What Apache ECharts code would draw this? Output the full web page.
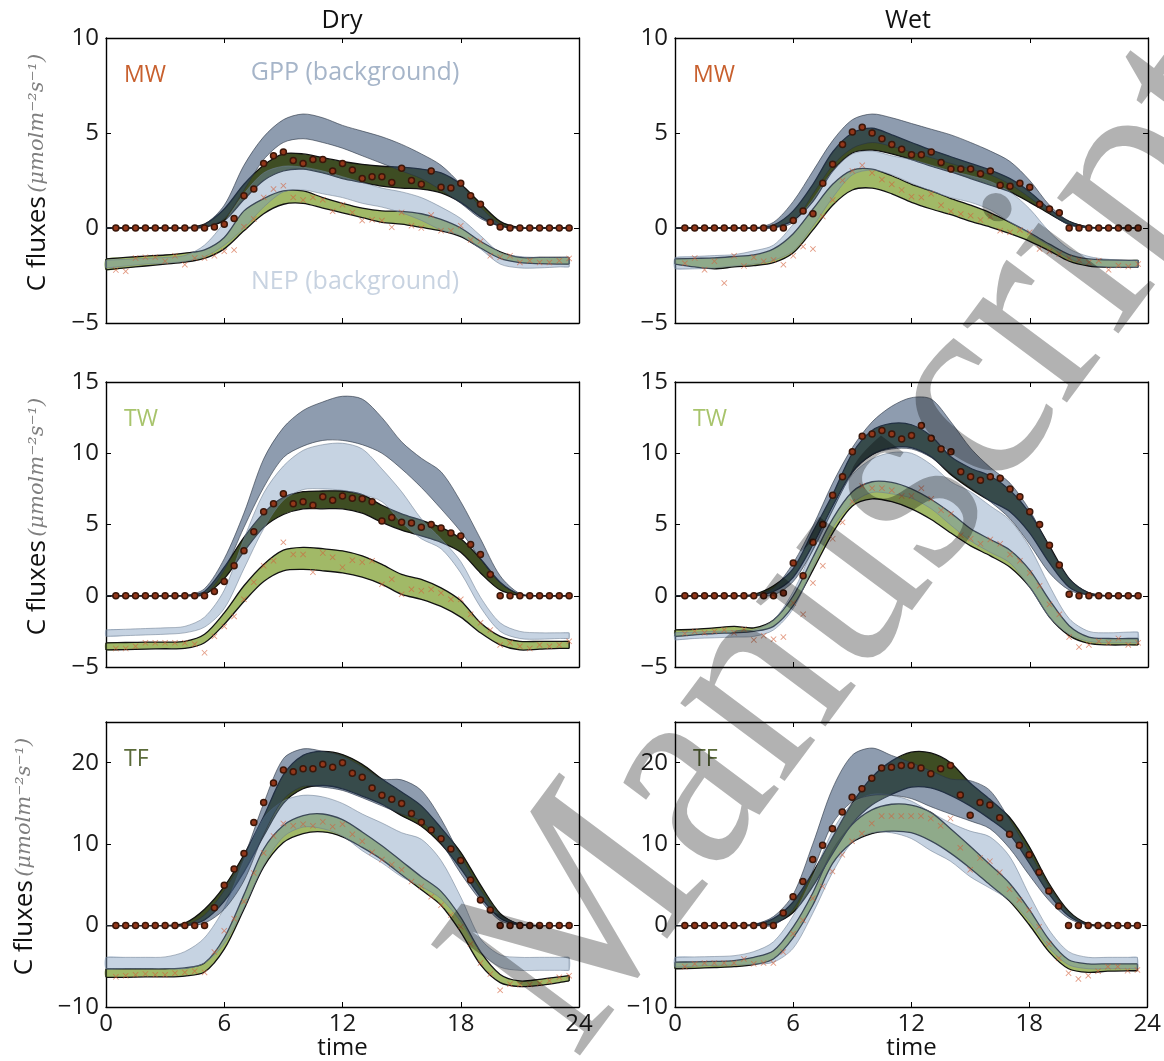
<!DOCTYPE html>
<html>
<head>
<meta charset="utf-8">
<script src="https://cdn.jsdelivr.net/npm/echarts@6/dist/echarts.min.js"></script>
<style>
  html, body { margin: 0; padding: 0; background: #fff; }
  #chart { width: 1164px; height: 1061px; }
</style>
</head>
<body>
<div id="chart"></div>
<script>
// model / background bands are hourly, the last point is 23.5 h
var BAND_T = [0,1,2,3,4,5,6,7,8,9,10,11,12,13,14,15,16,17,18,19,20,21,22,23,23.5]
// observations every half hour
var OBS_T = [0.5,1,1.5,2,2.5,3,3.5,4,4.5,5,5.5,6,6.5,7,7.5,8,8.5,9,9.5,10,10.5,11,11.5,12,12.5,13,13.5,14,14.5,15,15.5,16,16.5,17,17.5,18,18.5,19,19.5,20,20.5,21,21.5,22,22.5,23,23.5]

// ---- Dry, MW
var dryMW_gppBgHi = [0,0,0,0,0,0.2,1.2,3.3,4.8,5.7,6.0,5.8,5.4,5.1,4.8,4.4,3.9,3.3,2.3,1.1,0.2,0,0,0,0]
var dryMW_gppBgLo = [0,0,0,0,0,0.05,0.5,2.0,3.6,4.5,4.7,4.5,4.2,3.8,3.4,3.0,2.6,2.0,1.3,0.5,0.1,0,0,0,0]
var dryMW_gppHi = [0,0,0,0,0,0.2,1.0,2.3,3.3,3.9,3.9,3.7,3.5,3.35,3.25,3.2,3.1,2.9,2.3,1.3,0.35,0.02,0,0,0]
var dryMW_gppLo = [0,0,0,0,0,0.05,0.4,1.5,2.5,3.0,3.1,2.9,2.6,2.4,2.2,2.1,2.05,1.85,1.35,0.6,0.1,0,0,0,0]
var dryMW_nepBgHi = [-1.7,-1.65,-1.6,-1.55,-1.45,-0.9,0.3,1.8,2.9,3.25,3.2,3.0,2.7,2.4,2.1,1.9,1.6,1.1,0.5,-0.4,-1.3,-1.5,-1.55,-1.55,-1.55]
var dryMW_nepBgLo = [-2.1,-2.0,-1.9,-1.85,-1.75,-1.5,-0.9,0.0,1.1,1.9,2.0,1.8,1.6,1.3,1.1,0.8,0.4,-0.1,-0.4,-1.1,-1.9,-2.1,-2.1,-2.05,-2.05]
var dryMW_nepHi = [-1.63,-1.55,-1.48,-1.42,-1.32,-1.15,-0.5,0.9,1.55,1.95,1.95,1.6,1.3,1.05,0.9,0.88,0.75,0.45,0.0,-0.7,-1.25,-1.55,-1.55,-1.55,-1.55]
var dryMW_nepLo = [-2.2,-2.1,-2.0,-1.9,-1.8,-1.6,-1.1,-0.15,0.75,1.25,1.3,1.05,0.8,0.55,0.3,0.2,0.03,-0.15,-0.45,-1.05,-1.6,-1.82,-1.88,-1.9,-1.9]
var dryMW_gppObs = [0,0,0,0,0,0,0,0,0,0,0.05,0.2,0.5,1.7,2.05,3.4,3.8,4.0,3.55,3.4,3.6,3.6,3.0,3.4,3.05,2.6,2.7,2.7,2.4,3.15,2.5,2.3,3.0,2.15,2.1,2.35,1.7,1.25,0.3,0.05,0,0,0,0,0,0,0]
var dryMW_nepObs = [-2.21,-2.28,-1.58,-1.54,-1.54,-1.75,-1.46,-1.93,-1.58,-1.58,-1.46,-1.23,-1.16,0.07,0.47,1.61,2.05,2.23,1.61,1.47,1.61,1.49,0.88,1.23,0.82,0.39,0.44,0.39,0.04,0.82,0.12,0,0.68,-0.14,-0.14,0.12,-0.63,-0.7,-1.46,-1.54,-1.46,-1.81,-1.72,-1.81,-1.81,-1.72,-1.6]

// ---- Wet, MW
var wetMW_gppBgHi = [0,0,0,0,0,0.3,1.4,3.0,4.6,5.7,6.0,5.8,5.5,5.2,4.9,4.5,4.05,3.5,2.5,1.2,0.35,0.05,0,0,0]
var wetMW_gppBgLo = [0,0,0,0,0,0,0.3,1.8,3.3,4.2,4.5,4.3,4.0,3.7,3.4,3.1,2.8,2.3,1.6,0.8,0.15,0,0,0,0]
var wetMW_gppHi = [0,0,0,0,0,0.15,0.9,2.3,4.0,5.0,5.25,4.9,4.5,4.1,3.75,3.4,3.05,2.6,1.9,1.0,0.35,0.05,0,0,0]
var wetMW_gppLo = [0,0,0,0,0,0.03,0.4,1.4,3.0,3.95,4.1,3.9,3.6,3.25,2.95,2.6,2.25,1.9,1.35,0.75,0.2,0.02,0,0,0]
var wetMW_nepBgHi = [-1.55,-1.5,-1.45,-1.4,-1.2,-0.9,0.2,1.5,3.0,3.9,4.05,3.8,3.6,3.3,3.0,2.75,2.45,1.9,1.0,-0.2,-1.1,-1.5,-1.65,-1.7,-1.7]
var wetMW_nepBgLo = [-2.15,-2.15,-2.1,-2.0,-1.9,-1.7,-1.2,0.1,1.6,2.8,3.05,2.8,2.35,1.95,1.6,1.35,0.95,0.3,-0.3,-0.95,-1.6,-1.95,-2.07,-2.07,-2.07]
var wetMW_nepHi = [-1.63,-1.6,-1.57,-1.5,-1.42,-1.1,-0.3,1.0,2.3,3.05,3.1,2.75,2.3,1.95,1.55,1.2,0.8,0.3,-0.25,-0.85,-1.4,-1.63,-1.68,-1.7,-1.7]
var wetMW_nepLo = [-1.9,-2.05,-2.15,-2.05,-1.98,-1.82,-1.3,-0.1,1.2,2.0,2.1,1.8,1.35,1.0,0.7,0.35,0.05,-0.3,-0.7,-1.2,-1.75,-2.0,-2.07,-2.07,-2.07]
var wetMW_gppObs = [0,0,0,0,0,0,0,0,0,0,0,0.4,0.9,0.75,2.35,3.35,4.4,5.05,5.3,5.0,4.7,4.4,4.15,3.85,3.85,4.0,3.45,3.1,3.1,3.1,2.85,3.0,2.25,2.2,2.35,2.15,1.25,1.0,0.8,0,0,0,0,0,0,0,0]
var wetMW_nepObs = [-1.86,-1.58,-2.2,-1.75,-2.9,-1.46,-2.0,-1.55,-1.75,-1.68,-1.93,-1.46,-0.98,-1.1,0.6,1.47,2.5,3.0,3.3,2.9,2.55,2.3,2.0,1.65,1.6,1.8,1.2,0.88,0.74,0.65,0.42,0.6,-0.14,-0.23,-0.1,-0.23,-1.1,-1.23,-1.37,-1.58,-1.68,-1.81,-1.72,-2.2,-1.98,-2.03,-1.9]

// ---- Dry, TW
var dryTW_gppBgHi = [0,0,0,0,0,0.5,2.6,5.8,9.6,11.8,13.0,13.6,14.0,13.8,12.5,10.8,9.65,8.7,6.6,4.0,1.4,0.15,0,0,0]
var dryTW_gppBgLo = [0,0,0,0,0,0.1,1.8,4.8,7.6,9.7,10.5,10.9,10.9,10.6,10.0,8.9,7.6,6.1,4.5,2.6,0.9,0.1,0,0,0]
var dryTW_gppHi = [0,0,0,0,0.02,0.3,2.0,4.1,5.8,6.9,7.3,7.35,7.35,7.1,6.35,5.75,5.3,4.8,4.0,2.6,0.95,0.1,0,0,0]
var dryTW_gppLo = [0,0,0,0,0,0.1,1.2,3.1,4.8,5.7,6.1,6.1,6.1,5.8,5.15,4.6,4.2,3.75,3.05,1.6,0.4,0.02,0,0,0]
var dryTW_nepBgHi = [-2.4,-2.35,-2.3,-2.25,-2.15,-1.5,0.4,4.0,7.2,9.1,10.2,10.6,10.7,10.3,8.9,7.3,5.4,4.0,2.4,-0.1,-1.9,-2.5,-2.6,-2.6,-2.6]
var dryTW_nepBgLo = [-2.85,-2.8,-2.75,-2.7,-2.6,-2.2,-0.9,1.9,4.7,6.7,7.45,7.5,7.4,7.1,6.6,5.15,4.0,3.3,1.6,-0.8,-2.5,-3.0,-3.05,-3.0,-3.0]
var dryTW_nepHi = [-3.3,-3.28,-3.25,-3.25,-3.2,-2.7,-1.2,0.7,2.2,3.2,3.4,3.3,3.15,2.8,2.2,1.5,1.15,0.55,-0.35,-1.9,-2.85,-3.2,-3.2,-3.2,-3.2]
var dryTW_nepLo = [-3.8,-3.78,-3.75,-3.72,-3.7,-3.3,-2.0,-0.4,1.0,1.75,1.85,1.75,1.6,1.3,0.8,0.1,-0.25,-0.75,-1.5,-2.6,-3.45,-3.8,-3.75,-3.7,-3.7]
var dryTW_gppObs = [0,0,0,0,0,0,0,0,0,0,0.3,1.0,2.1,3.15,4.5,5.9,6.45,7.15,6.45,6.6,6.35,6.95,6.7,7.0,6.85,6.8,6.6,5.25,5.5,5.15,5.1,4.8,5.0,4.75,4.4,4.2,3.6,2.9,1.5,0,0,0,0,0,0,0,0]
var dryTW_nepObs = [-3.7,-3.7,-3.55,-3.3,-3.3,-3.3,-3.3,-3.3,-3.4,-4.0,-2.85,-2.15,-1.45,-0.25,0.95,2.1,2.45,3.75,2.9,2.9,1.65,3.0,2.7,2.0,2.5,2.35,2.45,0.8,1.15,0.1,0.45,0.35,0.45,0.2,-0.25,-0.25,-1.3,-1.9,-2.4,-3.45,-3.3,-3.55,-3.7,-3.45,-3.55,-3.45,-3.2]

// ---- Wet, TW
var wetTW_gppBgHi = [0,0,0,0,0.05,0.55,2.3,4.9,7.9,10.4,12.2,13.3,13.9,13.8,12.2,10.35,9.0,7.9,6.0,3.4,1.2,0.2,0,0,0]
var wetTW_gppBgLo = [0,0,0,0,0,0.05,1.0,3.2,6.0,8.6,9.9,10.3,10.3,9.7,8.6,7.6,6.6,5.4,3.6,1.6,0.4,0.05,0,0,0]
var wetTW_gppHi = [0,0,0,0,0.1,0.7,1.9,4.5,7.1,10.0,11.6,12.1,12.0,11.2,9.75,8.95,8.4,7.4,5.8,3.5,1.2,0.2,0,0,0]
var wetTW_gppLo = [0,0,0,0,0,0.3,1.3,3.6,6.3,8.7,9.9,10.4,10.4,9.75,8.5,7.5,6.65,5.9,4.4,2.3,0.6,0.05,0,0,0]
var wetTW_nepBgHi = [-2.6,-2.55,-2.5,-2.45,-2.4,-1.7,0.3,3.3,6.1,8.5,9.6,10.05,10.0,9.2,8.0,7.3,6.3,5.3,3.4,0.7,-1.6,-2.5,-2.6,-2.55,-2.55]
var wetTW_nepBgLo = [-3.1,-3.0,-2.95,-2.9,-2.85,-2.4,-0.9,2.0,4.8,6.5,7.25,7.15,6.85,6.1,4.95,3.85,3.05,2.3,0.6,-1.5,-2.7,-3.2,-3.3,-3.3,-3.3]
var wetTW_nepHi = [-2.4,-2.35,-2.25,-2.15,-2.25,-1.7,0.0,2.7,5.4,7.3,8.0,7.95,7.5,6.75,5.8,4.7,3.95,3.2,1.8,-0.3,-2.1,-2.9,-3.0,-3.0,-3.0]
var wetTW_nepLo = [-2.85,-2.75,-2.65,-2.6,-2.5,-2.15,-0.7,1.8,4.4,6.3,6.8,6.6,6.1,5.35,4.4,3.5,2.8,2.0,0.6,-1.5,-2.8,-3.35,-3.45,-3.45,-3.45]
var wetTW_gppObs = [0,0,0,0,0,0,0,0,0,0,0.2,2.3,1.4,3.75,5.0,7.05,8.35,10.1,11.2,11.35,11.6,11.35,11.0,11.25,11.95,11.05,10.3,10.1,8.7,8.35,8.1,8.35,8.25,7.5,6.95,5.9,5.0,3.55,2.15,0.1,0,0,0,0,0,0,0]
var wetTW_nepObs = [-2.65,-2.5,-2.6,-2.5,-2.4,-2.6,-2.35,-3.1,-2.8,-3.05,-2.9,-0.5,-1.3,0.9,2.1,4.0,5.15,6.6,7.7,7.55,7.55,7.4,7.0,7.0,7.55,6.8,6.0,5.75,4.25,4.0,3.65,3.95,3.65,2.9,2.45,1.6,0.7,-0.6,-1.3,-2.9,-3.6,-3.45,-3.2,-3.3,-3.0,-3.45,-3.3]

// ---- Dry, TF
var dryTF_gppBgHi = [0,0,0,0,0.05,1.3,4.3,8.5,15.0,20.5,21.7,21.4,20.8,19.5,18.0,17.9,16.6,13.1,8.5,4.4,1.3,0.2,0,0,0]
var dryTF_gppBgLo = [0,0,0,0,0,0.3,2.0,5.5,11.2,15.5,17.1,17.0,16.6,15.7,14.7,13.7,12.85,10.2,6.4,3.1,0.6,0.05,0,0,0]
var dryTF_gppHi = [0,0,0,0,0.3,2.0,4.8,8.7,13.4,18.5,20.9,21.4,21.0,19.8,18.0,16.4,14.7,12.0,9.0,5.0,1.5,0.15,0,0,0]
var dryTF_gppLo = [0,0,0,0,0,0.7,3.0,6.6,11.0,15.0,16.8,17.2,16.8,15.9,14.9,13.5,12.2,10.0,7.0,3.5,0.9,0.1,0,0,0]
var dryTF_nepBgHi = [-3.9,-3.9,-3.9,-3.85,-3.2,-1.5,2.2,8.0,13.2,15.3,16.0,15.8,15.0,13.7,12.6,11.4,10.6,8.0,3.5,-1.6,-3.6,-3.9,-3.9,-3.9,-3.9]
var dryTF_nepBgLo = [-5.3,-5.3,-5.3,-5.3,-5.3,-4.6,-2.2,2.2,7.4,10.9,12.1,11.9,11.0,9.2,7.7,6.0,4.8,3.3,0.5,-3.2,-5.1,-5.5,-5.5,-5.5,-5.5]
var dryTF_nepHi = [-5.3,-5.3,-5.3,-5.3,-5.2,-4.6,-1.5,3.8,9.4,12.3,13.5,13.7,13.0,11.5,9.8,7.9,6.0,4.2,1.0,-3.2,-6.0,-6.8,-6.6,-6.3,-6.15]
var dryTF_nepLo = [-6.35,-6.35,-6.3,-6.3,-6.2,-5.7,-2.9,2.0,7.2,10.2,11.3,11.5,10.9,9.6,8.1,6.25,4.4,2.5,-0.8,-4.8,-7.0,-7.5,-7.35,-7.0,-6.8]
var dryTF_gppObs = [0,0,0,0,0,0,0,0,0,0,2.2,4.95,6.95,8.85,12.65,15.1,17.5,19.1,18.9,19.25,19.25,19.8,19.45,20.0,18.7,18.2,16.9,16.0,15.5,15.0,13.75,12.7,11.75,10.65,9.4,8.0,5.6,3.15,1.9,0,0,0,0,0,0,0,0]
var dryTF_nepObs = [-6.3,-6.15,-6.05,-5.95,-6.05,-6.05,-5.85,-5.75,-5.6,-5.75,-3.25,-0.65,0.85,2.95,6.45,8.9,11.0,12.55,12.25,12.45,12.25,12.75,12.15,12.45,11.2,10.35,9.0,8.1,7.5,6.85,5.4,4.8,3.55,2.5,1.3,-0.15,-2.25,-4.6,-5.95,-7.95,-7.2,-7.25,-7.25,-7.1,-6.8,-6.35,-6.15]

// ---- Wet, TF
var wetTF_gppBgHi = [0,0,0,0,0.15,1.1,3.8,10.0,16.8,20.9,21.8,20.9,20.0,19.0,18.0,17.8,16.6,13.0,9.0,4.8,1.6,0.1,0,0,0]
var wetTF_gppBgLo = [0,0,0,0,0,0.05,2.0,6.7,12.5,15.2,16.0,16.0,15.6,14.6,13.7,12.85,11.9,9.5,6.2,3.1,0.9,0.05,0,0,0]
var wetTF_gppHi = [0,0,0,0,0.1,0.85,2.9,6.5,10.8,15.0,18.2,20.2,21.3,21.2,20.0,17.5,15.5,13.3,9.7,5.2,1.8,0.2,0,0,0]
var wetTF_gppLo = [0,0,0,0,0,0.25,1.6,4.8,8.8,12.5,14.8,16.1,17.0,16.9,16.0,14.7,13.1,11.2,7.7,3.9,1.2,0.1,0,0,0]
var wetTF_nepBgHi = [-3.9,-3.85,-3.8,-3.7,-3.2,-2.0,1.2,6.0,11.6,15.0,16.1,16.0,15.3,13.9,12.6,11.6,10.9,8.5,3.8,-0.5,-3.2,-3.9,-3.9,-3.9,-3.9]
var wetTF_nepBgLo = [-5.1,-5.0,-4.9,-4.85,-4.75,-4.5,-2.8,1.5,6.5,10.2,11.4,11.4,10.7,9.2,7.9,6.0,4.6,3.1,0.6,-2.7,-4.8,-5.3,-5.3,-5.3,-5.3]
var wetTF_nepHi = [-4.5,-4.45,-4.4,-4.3,-3.9,-3.1,-0.2,4.0,9.2,12.4,14.2,14.9,14.8,13.9,11.9,9.75,7.5,5.2,2.0,-1.7,-4.2,-4.7,-4.7,-4.7,-4.7]
var wetTF_nepLo = [-5.3,-5.25,-5.15,-5.05,-4.8,-4.1,-1.5,2.5,7.6,10.2,11.3,11.6,11.4,10.4,8.9,7.05,5.0,3.0,0.1,-3.2,-5.3,-5.75,-5.6,-5.55,-5.55]
var wetTF_gppObs = [0,0,0,0,0,0,0,0,0,0,1.55,3.55,5.4,8.1,9.85,11.9,13.95,15.75,16.8,18.1,19.35,19.45,19.65,19.65,19.35,18.65,19.25,19.65,16.05,13.55,15.1,14.8,13.25,11.2,9.85,8.7,6.55,4.25,2.4,0,0,0,0,0,0,0,0]
var wetTF_nepObs = [-5.05,-4.7,-4.6,-4.6,-4.6,-4.6,-4.1,-4.7,-4.6,-4.6,-3.25,-1.0,0.65,3.35,4.8,6.65,8.7,10.35,11.3,12.55,13.45,13.45,13.45,13.45,13.45,13.15,12.25,13.15,9.55,6.85,8.3,7.9,6.55,4.45,3.15,1.9,-0.15,-2.25,-4.0,-5.85,-6.55,-6.15,-5.6,-5.05,-5.05,-5.55,-5.45]

var SITES = ['MW', 'TW', 'TF']
var SITE_COLORS = ['#c8602e', '#a8c46c', '#5b6b3a']
var Y_RANGES = [[-5, 10, 5], [-5, 15, 5], [-10, 25, 10]]

var panels = [
  [dryMW_gppBgHi, dryMW_gppBgLo, dryMW_gppHi, dryMW_gppLo, dryMW_nepBgHi, dryMW_nepBgLo, dryMW_nepHi, dryMW_nepLo, dryMW_gppObs, dryMW_nepObs],
  [wetMW_gppBgHi, wetMW_gppBgLo, wetMW_gppHi, wetMW_gppLo, wetMW_nepBgHi, wetMW_nepBgLo, wetMW_nepHi, wetMW_nepLo, wetMW_gppObs, wetMW_nepObs],
  [dryTW_gppBgHi, dryTW_gppBgLo, dryTW_gppHi, dryTW_gppLo, dryTW_nepBgHi, dryTW_nepBgLo, dryTW_nepHi, dryTW_nepLo, dryTW_gppObs, dryTW_nepObs],
  [wetTW_gppBgHi, wetTW_gppBgLo, wetTW_gppHi, wetTW_gppLo, wetTW_nepBgHi, wetTW_nepBgLo, wetTW_nepHi, wetTW_nepLo, wetTW_gppObs, wetTW_nepObs],
  [dryTF_gppBgHi, dryTF_gppBgLo, dryTF_gppHi, dryTF_gppLo, dryTF_nepBgHi, dryTF_nepBgLo, dryTF_nepHi, dryTF_nepLo, dryTF_gppObs, dryTF_nepObs],
  [wetTF_gppBgHi, wetTF_gppBgLo, wetTF_gppHi, wetTF_gppLo, wetTF_nepBgHi, wetTF_nepBgLo, wetTF_nepHi, wetTF_nepLo, wetTF_gppObs, wetTF_nepObs]
]

var FONT = '"Open Sans", "DejaVu Sans", sans-serif'
var COL_LEFT = [106, 675]
var ROW_TOP = [38, 382, 722]
var PLOT_W = 473
var PLOT_H = 285

var chart = echarts.init(document.getElementById('chart'))

function tickFmt(v) {
  return v < 0 ? '\u2212' + Math.abs(v) : String(v)
}

// filled band between lo and hi, with edge lines like fill_between
function band(gi, lo, hi, fill, edge, lw, z) {
  return {
    type: 'custom',
    coordinateSystem: 'cartesian2d',
    xAxisIndex: gi * 2,
    yAxisIndex: gi * 2,
    z: z,
    silent: true,
    animation: false,
    data: [[0, 0]],
    renderItem: function (params, api) {
      var top = [], bot = []
      for (var i = 0; i < BAND_T.length; i++) {
        top.push(api.coord([BAND_T[i], hi[i]]))
        bot.push(api.coord([BAND_T[i], lo[i]]))
      }
      var ring = top.concat(bot.slice().reverse())
      var n = top.length - 1
      return {
        type: 'group',
        children: [
          { type: 'polygon', shape: { points: ring, smooth: 0.3 }, style: { fill: fill, stroke: null } },
          { type: 'polyline', shape: { points: top, smooth: 0.3 }, style: { fill: null, stroke: edge, lineWidth: lw } },
          { type: 'polyline', shape: { points: bot, smooth: 0.3 }, style: { fill: null, stroke: edge, lineWidth: lw } },
          { type: 'line', shape: { x1: top[0][0], y1: top[0][1], x2: bot[0][0], y2: bot[0][1] }, style: { stroke: edge, lineWidth: lw } },
          { type: 'line', shape: { x1: top[n][0], y1: top[n][1], x2: bot[n][0], y2: bot[n][1] }, style: { stroke: edge, lineWidth: lw } }
        ]
      }
    }
  }
}

function obs(gi, vals, kind) {
  var data = OBS_T.map(function (t, k) { return [t, vals[k]] })
  if (kind === 'gpp') {
    return {
      type: 'scatter', xAxisIndex: gi * 2, yAxisIndex: gi * 2, z: 8, silent: true, animation: false,
      data: data, symbol: 'circle', symbolSize: 6,
      itemStyle: { color: '#93371a', borderColor: '#3a170a', borderWidth: 1.5, opacity: 1 }
    }
  }
  return {
    type: 'scatter', xAxisIndex: gi * 2, yAxisIndex: gi * 2, z: 7, silent: true, animation: false,
    data: data,
    symbol: 'path://M1,0L5,4L9,0L10,1L6,5L10,9L9,10L5,6L1,10L0,9L4,5L0,1Z',
    symbolSize: 6,
    itemStyle: { color: 'rgba(210,96,58,0.8)' }
  }
}

var grids = [], xAxes = [], yAxes = [], series = [], graphics = []

for (var gi = 0; gi < 6; gi++) {
  var row = Math.floor(gi / 2)
  var col = gi % 2
  var yr = Y_RANGES[row]
  var isBottom = row === 2
  grids.push({ left: COL_LEFT[col], top: ROW_TOP[row], width: PLOT_W, height: PLOT_H })

  var axLine = { show: true, onZero: false, lineStyle: { color: '#000', width: 1.4 } }
  var tick = { show: true, inside: true, length: 5, lineStyle: { color: '#000', width: 1 } }
  xAxes.push({
    type: 'value', gridIndex: gi, min: 0, max: 24, interval: 6, position: 'bottom',
    axisLine: axLine, axisTick: tick, splitLine: { show: false },
    axisLabel: { show: isBottom, color: '#1a1a1a', fontSize: 24, fontFamily: FONT, margin: 5 }
  })
  xAxes.push({
    type: 'value', gridIndex: gi, min: 0, max: 24, interval: 6, position: 'top',
    axisLine: axLine, axisTick: tick, splitLine: { show: false }, axisLabel: { show: false }
  })
  yAxes.push({
    type: 'value', gridIndex: gi, min: yr[0], max: yr[1], interval: yr[2], position: 'left',
    axisLine: axLine, axisTick: tick, splitLine: { show: false },
    axisLabel: { color: '#1a1a1a', fontSize: 24, fontFamily: FONT, margin: 7, formatter: tickFmt, showMaxLabel: row !== 2 }
  })
  yAxes.push({
    type: 'value', gridIndex: gi, min: yr[0], max: yr[1], interval: yr[2], position: 'right',
    axisLine: axLine, axisTick: tick, splitLine: { show: false }, axisLabel: { show: false }
  })

  var p = panels[gi]
  series.push(band(gi, p[7], p[6], 'rgba(140,170,70,0.82)', '#111', 1.3, 2))
  series.push(band(gi, p[3], p[2], 'rgba(35,52,5,0.88)', '#111', 1.3, 3))
  series.push(band(gi, p[5], p[4], 'rgba(120,150,185,0.42)', 'rgba(110,125,145,0.55)', 1, 4))
  series.push(band(gi, p[1], p[0], 'rgba(50,75,110,0.55)', 'rgba(40,50,65,0.6)', 1, 5))
  series.push(obs(gi, p[9], 'nep'))
  series.push(obs(gi, p[8], 'gpp'))

  // site label
  graphics.push({
    type: 'text', x: COL_LEFT[col] + 18, y: ROW_TOP[row] + 37,
    style: { text: SITES[row], fill: SITE_COLORS[row], font: '23px ' + FONT, verticalAlign: 'middle' }
  })

  if (col === 0) {
    graphics.push({
      type: 'text', x: row === 2 ? 25 : 38, y: ROW_TOP[row] + PLOT_H / 2 - 8, rotation: Math.PI / 2,
      style: {
        text: '{a|C fluxes} {b|(\u03bcmolm\u207b\u00b2s\u207b\u00b9)}',
        align: 'center', verticalAlign: 'middle',
        rich: {
          a: { fontSize: 26, fontFamily: FONT, fill: '#111' },
          b: { fontSize: 21, fontFamily: '"DejaVu Serif", serif', fontStyle: 'italic', fill: '#7f7f7f' }
        }
      }
    })
  }
  if (isBottom) {
    graphics.push({
      type: 'text', x: COL_LEFT[col] + PLOT_W / 2, y: 1048,
      style: { text: 'time', fill: '#111', font: '24px ' + FONT, align: 'center', verticalAlign: 'middle' }
    })
  }
}

graphics.push({ type: 'text', x: 342, y: 21, style: { text: 'Dry', fill: '#111', font: '25px ' + FONT, align: 'center', verticalAlign: 'middle' } })
graphics.push({ type: 'text', x: 908, y: 21, style: { text: 'Wet', fill: '#111', font: '25px ' + FONT, align: 'center', verticalAlign: 'middle' } })
graphics.push({ type: 'text', x: 355, y: 73, style: { text: 'GPP (background)', fill: '#a6b5c9', font: '25px ' + FONT, align: 'center', verticalAlign: 'middle' } })
graphics.push({ type: 'text', x: 355, y: 282, style: { text: 'NEP (background)', fill: '#c8d3e1', font: '25px ' + FONT, align: 'center', verticalAlign: 'middle' } })

// watermark
graphics.push({
  type: 'text', x: 867, y: 546, rotation: 0.93, scaleY: 1.1, z: 100, silent: true,
  style: { text: 'Manuscript', fill: 'rgba(0,0,0,0.3)', font: '258px "Liberation Serif", "Times New Roman", serif', align: 'center', verticalAlign: 'middle' }
})

chart.setOption({
  animation: false,
  grid: grids,
  xAxis: xAxes,
  yAxis: yAxes,
  series: series,
  graphic: { elements: graphics }
})
</script>
</body>
</html>
